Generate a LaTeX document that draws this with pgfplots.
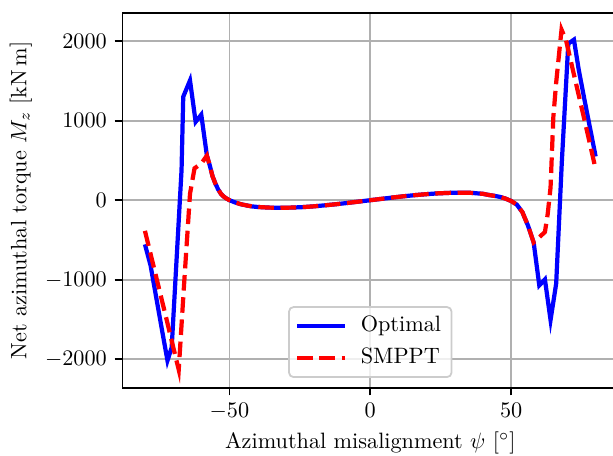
\documentclass[border=0pt]{standalone}
\usepackage{pgfplots}
\pgfplotsset{compat=1.18}
\definecolor{gridc}{HTML}{B0B0B0}
\definecolor{legc}{HTML}{CCCCCC}
\begin{document}
\begin{tikzpicture}
\begin{axis}[
  scale only axis,
  width=223.1pt, height=168.75pt,
  xmin=-88, xmax=88, ymin=-2356, ymax=2356,
  xtick={-50,0,50},
  ytick={-2000,-1000,0,1000,2000},
  scaled y ticks=false,
  yticklabel style={/pgf/number format/1000 sep={}},
  grid=major,
  grid style={color=gridc, line width=0.8pt},
  axis line style={line width=0.8pt},
  tick align=outside,
  major tick length=3.5pt,
  tick style={black, line width=0.8pt},
  xtick pos=left, ytick pos=left,
  xlabel={Azimuthal misalignment $\psi$ [$^\circ$]},
  ylabel={Net azimuthal torque $M_z$ [kN\,m]},
  xlabel style={at={(axis description cs:0.5,-0.1475)}, anchor=center},
  ylabel style={at={(axis description cs:-0.2049,0.5)}, anchor=center},
  legend image code/.code={\draw[#1] (0pt,0pt) -- (21.6pt,0pt);},
  legend cell align=left,
  legend style={at={(axis description cs:0.5,0.026)}, anchor=south,
    draw=legc, line width=0.8pt, rounded corners=2pt, fill=white, fill opacity=0.8, text opacity=1,
    inner xsep=2.7pt, inner ysep=2.1pt, row sep=1.3pt, column sep=4.1pt,
    nodes={inner sep=2pt, text height=7pt, text depth=2pt}},
]
\addplot[blue, line width=1.9pt] coordinates {
(-80,-555) (-78,-820) (-76,-1220) (-74,-1620) (-72,-2015) (-70.5,-1850)
(-67,380) (-66.4,1300) (-64,1505) (-62,985) (-60,1075) (-58,560)
(-57,440) (-56,300) (-55,210) (-54,135) (-53,80) (-52,45) (-51,20) (-50,0)
(-48,-28) (-46,-50) (-44,-65) (-42,-78) (-40,-85) (-36,-93) (-32,-95) (-28,-93)
(-24,-87) (-20,-77) (-16,-64) (-12,-50) (-8,-34) (-4,-17) (0,0) (4,17) (8,34)
(12,50) (16,64) (20,76) (24,86) (28,92) (32,95) (36,92) (40,80) (42,66) (44,55)
(46,42) (48,20) (50,-10) (52,-55) (54,-150) (56,-320) (58,-530)
(60,-1070) (62,-995) (64,-1505) (66,-1046) (68,480) (70.3,1967) (72.3,2017)
(74,1640) (76,1270) (78,910) (80,550)
};
\addlegendentry{Optimal}
\addplot[red, line width=1.9pt, dash pattern=on 7pt off 3pt] coordinates {
(-80,-385) (-78,-675) (-76,-965) (-74,-1255) (-72,-1545) (-70,-1840) (-68,-2130)
(-66,-1000) (-64,80) (-62.4,400) (-60,460) (-58,560)
(-57,440) (-56,300) (-55,210) (-54,135) (-53,80) (-52,45) (-51,20) (-50,0)
(-48,-28) (-46,-50) (-44,-65) (-42,-78) (-40,-85) (-36,-93) (-32,-95) (-28,-93)
(-24,-87) (-20,-77) (-16,-64) (-12,-50) (-8,-34) (-4,-17) (0,0) (4,17) (8,34)
(12,50) (16,64) (20,76) (24,86) (28,92) (32,95) (36,92) (40,80) (42,66) (44,55)
(46,42) (48,20) (50,-10) (52,-55) (54,-150) (56,-320) (58,-530)
(62,-400) (63,-170) (64,160) (65,1050) (66,1480) (67,1830) (67.9,2143)
(69.5,2009) (72,1625) (74,1320) (76,1015) (78,705) (80,390)
};
\addlegendentry{SMPPT}
\end{axis}
\pgfresetboundingbox
\useasboundingbox (-55.08pt,-30.3pt) rectangle (220.77pt,174.46pt);
\end{tikzpicture}
\end{document}
